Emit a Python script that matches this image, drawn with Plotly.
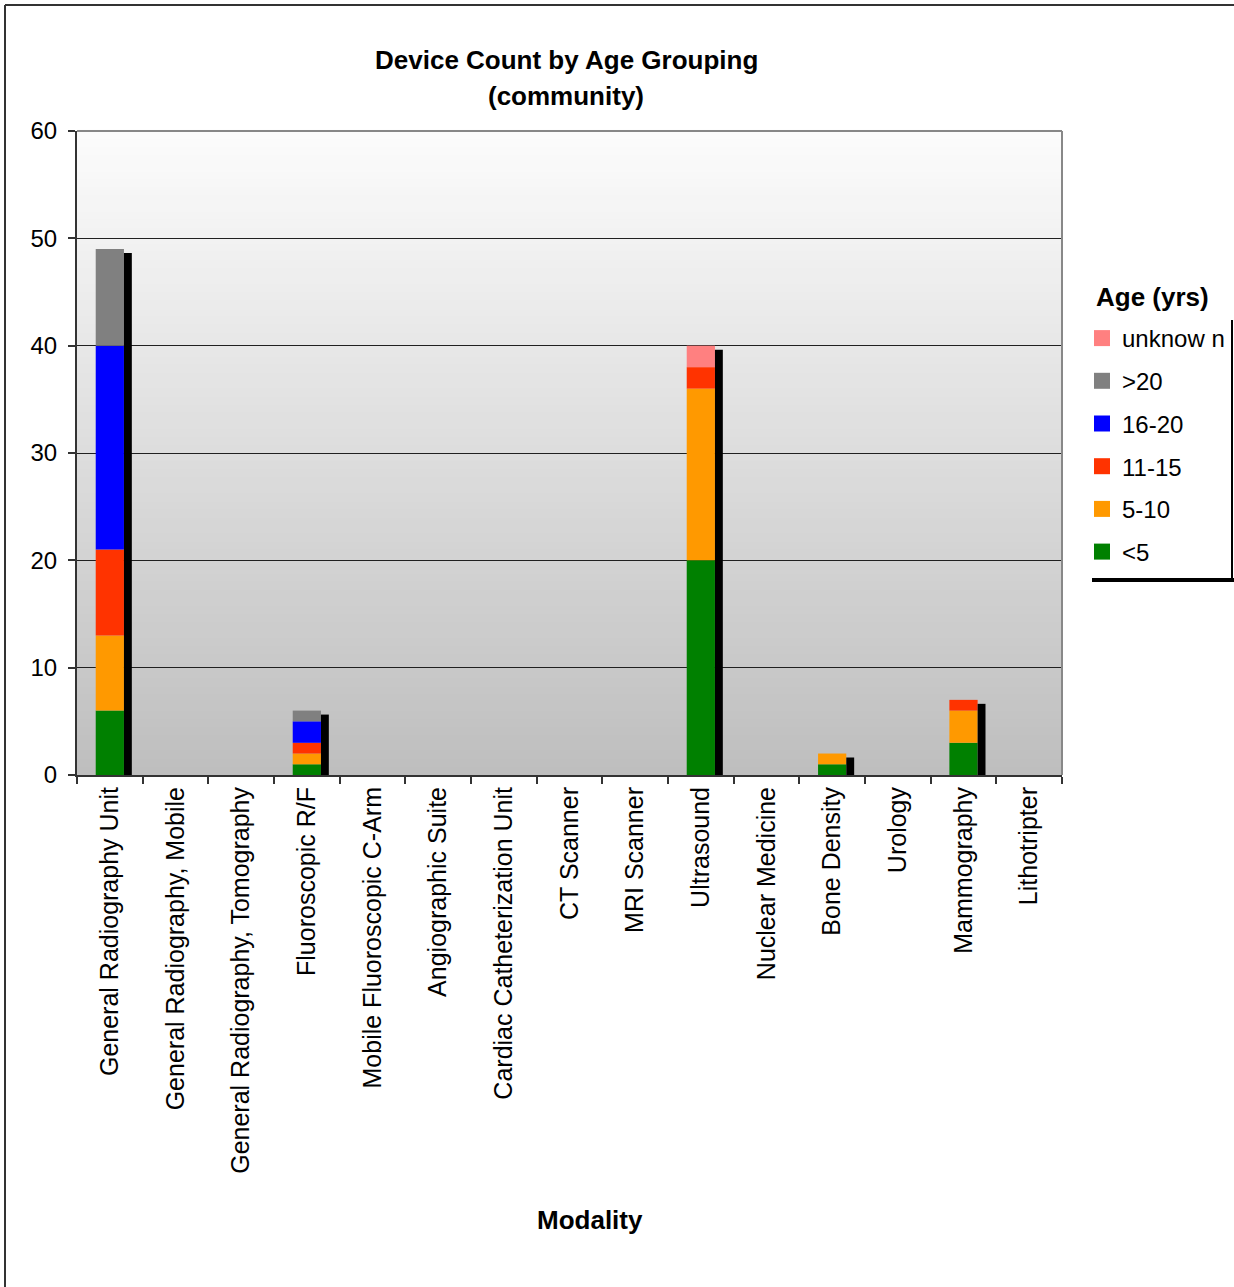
import numpy as np
import plotly.graph_objects as go

categories = [
    "General Radiography Unit", "General Radiography, Mobile",
    "General Radiography, Tomography", "Fluoroscopic R/F",
    "Mobile Fluoroscopic C-Arm", "Angiographic Suite",
    "Cardiac Catheterization Unit", "CT Scanner", "MRI Scanner",
    "Ultrasound", "Nuclear Medicine", "Bone Density", "Urology",
    "Mammography", "Lithotripter",
]
lt5      = [6, 0, 0, 1, 0, 0, 0, 0, 0, 20, 0, 1, 0, 3, 0]
y5_10    = [7, 0, 0, 1, 0, 0, 0, 0, 0, 16, 0, 1, 0, 3, 0]
y11_15   = [8, 0, 0, 1, 0, 0, 0, 0, 0, 2, 0, 0, 0, 1, 0]
y16_20   = [19, 0, 0, 2, 0, 0, 0, 0, 0, 0, 0, 0, 0, 0, 0]
gt20     = [9, 0, 0, 1, 0, 0, 0, 0, 0, 0, 0, 0, 0, 0, 0]
unknown  = [0, 0, 0, 0, 0, 0, 0, 0, 0, 2, 0, 0, 0, 0, 0]
series_names = ["<5", "5-10", "11-15", "16-20", ">20", "unknow n"]
series_values = [lt5, y5_10, y11_15, y16_20, gt20, unknown]
series_colors = ["#008000", "#FF9900", "#FF3300", "#0000FF", "#808080", "#FF8080"]
y_ticks = [0, 10, 20, 30, 40, 50, 60]

FONT = "Liberation Sans, Arial, sans-serif"
W, H = 1234, 1287
L, R, T, B = 77, 172, 131, 512
PW, PH = W - L - R, H - T - B

def px(x):
    return (x - L) / PW

def py(y):
    return (H - B - y) / PH

fig = go.Figure()

base = np.zeros(len(categories))
n_series = len(series_names)
for i, (name, vals, col) in enumerate(zip(series_names, series_values, series_colors)):
    v = np.array(vals, dtype=float)
    fig.add_trace(go.Bar(
        x=categories,
        y=[val if val > 0 else None for val in v],
        base=[b if val > 0 else None for b, val in zip(base, v)],
        name=name, showlegend=False,
        marker=dict(color=col, line=dict(width=0)),
        width=0.43, offset=-0.215,
    ))
    base = base + v

# 3D-like black shadow at right of each stack
totals = base
fig.add_trace(go.Bar(
    x=categories,
    y=[t - 0.37 if t > 0 else None for t in totals],
    base=[0 if t > 0 else None for t in totals],
    marker=dict(color="black", line=dict(width=0)),
    width=0.12, offset=0.215, showlegend=False, hoverinfo="skip",
))

# legend entries (square swatches)
for i, (name, col) in enumerate(zip(series_names, series_colors)):
    fig.add_trace(go.Scatter(
        x=[categories[0]], y=[None], mode="markers", name=name,
        legendgroup=name, legendrank=n_series - i,
        marker=dict(symbol="square", size=16, color=col, line=dict(width=0)),
        hoverinfo="skip",
    ))

shapes = []
# gradient background bands
n = 80
top_c, bot_c = 252, 190
for i in range(n):
    f = (i + 0.5) / n
    c = int(round(bot_c + (top_c - bot_c) * f))
    shapes.append(dict(type="rect", xref="x domain", yref="y domain",
                       x0=0, x1=1, y0=i / n, y1=(i + 1) / n + 0.002,
                       fillcolor=f"rgb({c},{c},{c})", line=dict(width=0),
                       layer="below"))
# plot top / right border
shapes.append(dict(type="line", xref="x domain", yref="y domain", x0=0, x1=1, y0=1, y1=1,
                   line=dict(color="#888888", width=2), layer="above"))
shapes.append(dict(type="line", xref="x domain", yref="y domain", x0=1, x1=1, y0=0, y1=1,
                   line=dict(color="#888888", width=2), layer="above"))
# figure border (left and top)
shapes.append(dict(type="line", xref="paper", yref="paper", x0=px(5), x1=px(5), y0=py(5), y1=py(1290),
                   line=dict(color="#333333", width=2)))
shapes.append(dict(type="line", xref="paper", yref="paper", x0=px(5), x1=px(1240), y0=py(5), y1=py(5),
                   line=dict(color="#333333", width=2)))
# legend frame (right + bottom shadow)
shapes.append(dict(type="line", xref="paper", yref="paper", x0=px(1232), x1=px(1232), y0=py(320), y1=py(580),
                   line=dict(color="black", width=2)))
shapes.append(dict(type="line", xref="paper", yref="paper", x0=px(1092), x1=px(1234), y0=py(580), y1=py(580),
                   line=dict(color="black", width=4)))

annotations = [
    dict(text="<b>Device Count by Age Grouping</b>", x=px(566), y=py(60), xref="paper", yref="paper",
         xanchor="center", yanchor="middle", showarrow=False, font=dict(size=26, family=FONT, color="black")),
    dict(text="<b>(community)</b>", x=px(566), y=py(96), xref="paper", yref="paper",
         xanchor="center", yanchor="middle", showarrow=False, font=dict(size=26, family=FONT, color="black")),
    dict(text="<b>Modality</b>", x=px(590), y=py(1220), xref="paper", yref="paper",
         xanchor="center", yanchor="middle", showarrow=False, font=dict(size=26, family=FONT, color="black")),
    dict(text="<b>Age (yrs)</b>", x=px(1094), y=py(297), xref="paper", yref="paper",
         xanchor="left", yanchor="middle", showarrow=False, font=dict(size=26, family=FONT, color="black")),
]

fig.update_layout(
    width=W, height=H,
    margin=dict(l=L, r=R, t=T, b=B),
    paper_bgcolor="white", plot_bgcolor="rgba(0,0,0,0)",
    barmode="overlay",
    font=dict(family=FONT, size=23, color="black"),
    shapes=shapes, annotations=annotations,
    showlegend=True,
    legend=dict(
        xref="container", yref="container",
        x=1082 / W, xanchor="left", y=1 - 316 / H, yanchor="top",
        font=dict(size=24, family=FONT, color="black"),
        traceorder="grouped", tracegroupgap=8.5,
        bgcolor="rgba(0,0,0,0)", borderwidth=0,
        itemclick=False,
    ),
    xaxis=dict(
        categoryorder="array", categoryarray=categories,
        range=[-0.5, len(categories) - 0.5],
        tickangle=-90, tickson="boundaries", ticks="outside", ticklen=7,
        tickcolor="#333333", tickwidth=2,
        showline=True, linecolor="#333333", linewidth=2,
        showgrid=False, tickfont=dict(size=25, family=FONT, color="black"),
    ),
    yaxis=dict(
        range=[0, 60], tickvals=y_ticks, ticks="outside", ticklen=7,
        tickcolor="#333333", tickwidth=2, ticklabelstandoff=6,
        showline=True, linecolor="#333333", linewidth=2,
        showgrid=True, gridcolor="#202020", gridwidth=1,
        zeroline=False, tickfont=dict(size=24, family=FONT, color="black"),
    ),
)

fig.write_html("out.html")
